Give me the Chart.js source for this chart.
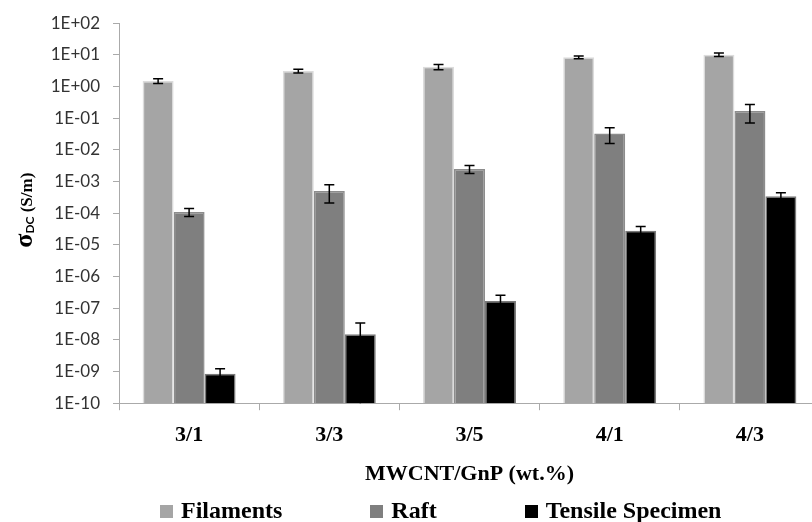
<!DOCTYPE html>
<html>
<head>
<meta charset="utf-8">
<script src="https://cdn.jsdelivr.net/npm/chart.js@4.4.1/dist/chart.umd.min.js"></script>
<style>
  html, body { margin: 0; padding: 0; background: #fff; overflow: hidden; width: 812px; height: 522px; }
  #wrap { position: absolute; left: 0; top: 0; width: 840px; height: 522px; }
  #legend { position: absolute; left: 160px; top: 498px; display: flex; gap: 88px;
            font-family: "Liberation Serif", "Times New Roman", serif; font-weight: bold; font-size: 24px;
            line-height: 24px; color: #000; white-space: nowrap; }
  #legend .sw { display: inline-block; width: 13px; height: 13px; margin-right: 8px; vertical-align: baseline; }
</style>
</head>
<body>
<div id="wrap"><canvas id="c"></canvas></div>
<div id="legend"></div>
<script>
// MWCNT/GnP loadings
const categories = ['3/1', '3/3', '3/5', '4/1', '4/3'];
const seriesNames = ['Filaments', 'Raft', 'Tensile Specimen'];

// DC conductivity (S/m) and standard deviation per sample type
const filaments    = [1.5, 3.1, 4.2, 8.4, 10.1];
const filamentsErr = [0.25, 0.42, 0.8, 0.8, 1.3];
const raft         = [1.1e-4, 5.0e-4, 2.5e-3, 3.3e-2, 0.17];
const raftErr      = [3.2e-5, 2.9e-4, 7.0e-4, 1.7e-2, 0.1];
const tensile      = [8.5e-10, 1.5e-8, 1.7e-7, 2.8e-5, 3.45e-4];
const tensileErr   = [3.7e-10, 1.9e-8, 8.5e-8, 1.0e-5, 1.0e-4];

// y axis decades
const yTickValues = [1e-10, 1e-9, 1e-8, 1e-7, 1e-6, 1e-5, 1e-4, 1e-3, 1e-2, 1e-1, 1e0, 1e1, 1e2];
const yTickLabels = ['1E-10', '1E-09', '1E-08', '1E-07', '1E-06', '1E-05', '1E-04',
                     '1E-03', '1E-02', '1E-01', '1E+00', '1E+01', '1E+02'];

const fills   = ['#a5a5a5', '#7f7f7f', '#000000'];
const borders = ['#dcdcdc', '#8c8c8c', '#7a7a7a'];
const values  = [filaments, raft, tensile];
const errors  = [filamentsErr, raftErr, tensileErr];

const axisGray = '#aaaaaa';
const serif = '"Liberation Serif", "Times New Roman", serif';

// symmetric error bars, clipped at the bottom of the log axis
const errorBars = {
  id: 'errorBars',
  afterDatasetsDraw(chart) {
    const ctx = chart.ctx;
    const y = chart.scales.y;
    ctx.save();
    ctx.strokeStyle = '#000';
    ctx.lineWidth = 1.5;
    chart.data.datasets.forEach((ds, i) => {
      const meta = chart.getDatasetMeta(i);
      meta.data.forEach((bar, j) => {
        const v = ds.data[j], e = ds.errors[j];
        const hi = y.getPixelForValue(v + e);
        const lo = y.getPixelForValue(Math.max(v - e, y.min));
        const cap = 5;
        ctx.beginPath();
        ctx.moveTo(bar.x, hi); ctx.lineTo(bar.x, lo);
        ctx.moveTo(bar.x - cap, hi); ctx.lineTo(bar.x + cap, hi);
        if (v - e > y.min) { ctx.moveTo(bar.x - cap, lo); ctx.lineTo(bar.x + cap, lo); }
        ctx.stroke();
      });
    });
    ctx.restore();
  }
};

// rotated y axis title with a subscript
const yTitle = {
  id: 'yTitle',
  afterDraw(chart) {
    const ctx = chart.ctx;
    const a = chart.chartArea;
    const parts = [
      { t: 'σ', font: 'bold 26px ' + serif, dy: 0 },
      { t: 'DC', font: 'bold 12px Lato, sans-serif', dy: 2 },
      { t: ' (S/m)', font: 'bold 17px ' + serif, dy: 0 }
    ];
    ctx.save();
    ctx.fillStyle = '#000';
    ctx.textBaseline = 'alphabetic';
    ctx.textAlign = 'left';
    let total = 0;
    parts.forEach(p => { ctx.font = p.font; p.w = ctx.measureText(p.t).width; total += p.w; });
    ctx.translate(32, (a.top + a.bottom) / 2 - 3);
    ctx.rotate(-Math.PI / 2);
    let x = -total / 2;
    parts.forEach(p => { ctx.font = p.font; ctx.fillText(p.t, x, p.dy); x += p.w; });
    ctx.restore();
  }
};

const chart = new Chart(document.getElementById('c'), {
  type: 'bar',
  data: {
    labels: categories,
    datasets: seriesNames.map((name, i) => ({
      label: name,
      data: values[i],
      errors: errors[i],
      backgroundColor: fills[i],
      borderColor: borders[i],
      borderWidth: 1.5,
      categoryPercentage: 0.663,
      barPercentage: 1.0
    }))
  },
  options: {
    responsive: true,
    maintainAspectRatio: false,
    animation: false,
    layout: { padding: { top: 18, right: 20, bottom: 34, left: 0 } },
    plugins: { legend: { display: false }, tooltip: { enabled: false } },
    scales: {
      x: {
        grid: { drawOnChartArea: false, tickLength: 7, color: axisGray, offset: true },
        border: { color: axisGray, width: 1 },
        ticks: { color: '#000', padding: 12, font: { family: serif, size: 22, weight: 'bold' } },
        title: {
          display: true, text: 'MWCNT/GnP (wt.%)', color: '#000',
          font: { family: serif, size: 22, weight: 'bold' },
          padding: { top: 1, bottom: 0 }
        }
      },
      y: {
        type: 'logarithmic',
        min: 1e-10,
        max: 1e2,
        afterBuildTicks: s => { s.ticks = yTickValues.map(v => ({ value: v })); },
        afterFit: s => { s.width = 119; },
        grid: { drawOnChartArea: false, tickLength: 6, color: axisGray },
        border: { color: axisGray, width: 1 },
        ticks: {
          color: '#333',
          padding: 13,
          font: { family: 'Lato, sans-serif', size: 17 },
          callback: (v, i) => yTickLabels[i]
        }
      }
    }
  },
  plugins: [errorBars, yTitle]
});

// legend row built from the datasets
const legend = document.getElementById('legend');
chart.data.datasets.forEach(ds => {
  const item = document.createElement('div');
  const sw = document.createElement('span');
  sw.className = 'sw';
  sw.style.background = ds.backgroundColor;
  item.appendChild(sw);
  item.appendChild(document.createTextNode(ds.label));
  legend.appendChild(item);
});
</script>
</body>
</html>
